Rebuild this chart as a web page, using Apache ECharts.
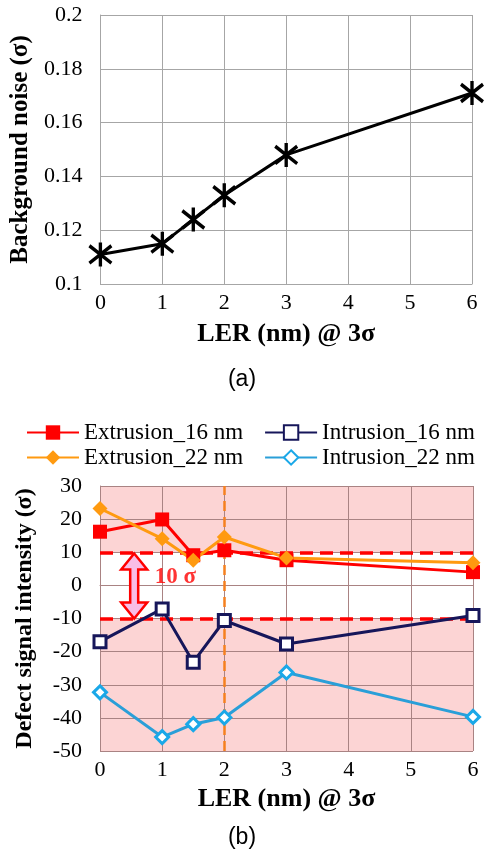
<!DOCTYPE html>
<html>
<head>
<meta charset="utf-8">
<script src="https://cdn.jsdelivr.net/npm/echarts@6/dist/echarts.min.js"></script>
<style>
  html, body { margin: 0; padding: 0; background: #fff; }
  #main { width: 484px; height: 855px; }
</style>
</head>
<body>
<div id="main"></div>
<script>
// (a) background noise vs LER
const lerValues = [0, 1, 1.5, 2, 3, 6];
const noiseValues = [0.111, 0.115, 0.124, 0.133, 0.148, 0.171];

// (b) defect signal intensity vs LER
const extrusion16 = [16.2, 19.9, 9.1, 10.6, 7.6, 4.0];
const extrusion22 = [23.2, 14.1, 7.6, 14.6, 8.3, 6.8];
const intrusion16 = [-17.0, -7.1, -23.2, -10.6, -17.7, -9.1];
const intrusion22 = [-32.3, -45.8, -41.9, -39.9, -26.3, -39.7];

const thresholdLines = [10, -10];
const pinkBands = [[10, 30], [-50, -10]];
const markedLer = 2;
const arrowData = [[0.55, 9.6, -10]];
const arrowLabel = [[0.88, 2.6]];

const serif = 'Liberation Serif';
const pairs = ys => lerValues.map((x, i) => [x, ys[i]]);

const asterisk = 'path://M-10,-8L10,8M10,-8L-10,8M0,-11L0,11';

var chartDom = document.getElementById('main');
var myChart = echarts.init(chartDom);

function xAxisOpt(gridIndex, gridColor) {
    return {
        type: 'value', gridIndex: gridIndex, min: 0, max: 6, interval: 1,
        name: 'LER (nm) @ 3\u03c3', nameLocation: 'middle', nameGap: gridIndex === 0 ? 37 : 35,
        nameTextStyle: {fontFamily: serif, fontWeight: 'bold', fontSize: 26, color: '#000'},
        axisLine: {show: true, lineStyle: {color: gridColor, width: 1}},
        axisTick: {show: false},
        axisLabel: {fontFamily: serif, fontSize: 22, color: '#000', margin: 8},
        splitLine: {show: true, lineStyle: {color: gridColor, width: 1}},
        z: 3
    };
}

function legendRow(top, names) {
    return {
        top: top, left: 26, width: 470, orient: 'horizontal',
        itemWidth: 52, itemHeight: 18, itemGap: 21, padding: 0,
        data: names,
        textStyle: {fontFamily: serif, fontSize: 23, color: '#000'}
    };
}

var option = {
    backgroundColor: '#fff',
    animation: false,
    grid: [
        {left: 99, right: 12, top: 15, height: 269},
        {left: 100, right: 11, top: 486, height: 265, show: true, backgroundColor: '#fff', borderWidth: 0}
    ],
    legend: [
        legendRow(421, ['Extrusion_16 nm', 'Intrusion_16 nm']),
        legendRow(446, ['Extrusion_22 nm', 'Intrusion_22 nm'])
    ],
    xAxis: [xAxisOpt(0, '#a6a6a6'), xAxisOpt(1, '#a98383')],
    yAxis: [
        {
            type: 'value', gridIndex: 0, min: 0.1, max: 0.2, interval: 0.02,
            name: 'Background noise (\u03c3)', nameLocation: 'middle', nameGap: 63,
            nameTextStyle: {fontFamily: serif, fontWeight: 'bold', fontSize: 25, color: '#000'},
            axisLine: {show: true, lineStyle: {color: '#a6a6a6'}},
            axisTick: {show: false},
            axisLabel: {fontFamily: serif, fontSize: 22, color: '#000', margin: 18,
                formatter: v => String(Number(v.toFixed(2)))},
            splitLine: {show: true, lineStyle: {color: '#a6a6a6', width: 1}}
        },
        {
            type: 'value', gridIndex: 1, min: -50, max: 30, interval: 10,
            name: 'Defect signal intensity (\u03c3)', nameLocation: 'middle', nameGap: 63,
            nameTextStyle: {fontFamily: serif, fontWeight: 'bold', fontSize: 24, color: '#000'},
            axisLine: {show: true, lineStyle: {color: '#a98383'}},
            axisTick: {show: false},
            axisLabel: {fontFamily: serif, fontSize: 22, color: '#000', margin: 18},
            splitLine: {show: true, lineStyle: {color: '#a98383', width: 1}},
            z: 3
        }
    ],
    graphic: [
        {type: 'text', left: 'center', top: 368, style: {text: '(a)', font: '23px "Liberation Sans"', fill: '#000'}},
        {type: 'text', left: 'center', top: 826, style: {text: '(b)', font: '23px "Liberation Sans"', fill: '#000'}}
    ],
    series: [
        {
            type: 'line', xAxisIndex: 0, yAxisIndex: 0, data: pairs(noiseValues),
            symbol: asterisk, symbolSize: [22, 24],
            lineStyle: {color: '#000', width: 3},
            itemStyle: {color: '#000', borderColor: '#000', borderWidth: 3.5},
            z: 5
        },
        {
            // shaded bands outside the +/-10 sigma window
            type: 'line', xAxisIndex: 1, yAxisIndex: 1, data: [], z: 1,
            markArea: {
                silent: true,
                itemStyle: {color: '#fcd4d4'},
                data: pinkBands.map(b => [{yAxis: b[0]}, {yAxis: b[1]}])
            }
        },
        {
            // threshold lines and the LER = 2 marker
            type: 'line', xAxisIndex: 1, yAxisIndex: 1, data: [], z: 4,
            markLine: {
                silent: true, symbol: 'none', label: {show: false},
                data: thresholdLines.map(v => ({yAxis: v, lineStyle: {color: '#ff0000', width: 3.5, type: [13, 7]}}))
                    .concat([{xAxis: markedLer, lineStyle: {color: '#f5801f', width: 2.5, type: [10, 6]}}])
            }
        },
        {
            name: 'Extrusion_16 nm', type: 'line', xAxisIndex: 1, yAxisIndex: 1, data: pairs(extrusion16),
            symbol: 'rect', symbolSize: 14,
            lineStyle: {color: '#ff0000', width: 3}, itemStyle: {color: '#ff0000'}, z: 6
        },
        {
            name: 'Intrusion_16 nm', type: 'line', xAxisIndex: 1, yAxisIndex: 1, data: pairs(intrusion16),
            symbol: 'rect', symbolSize: 12,
            lineStyle: {color: '#16165a', width: 3},
            itemStyle: {color: '#fff', borderColor: '#16165a', borderWidth: 3}, z: 6
        },
        {
            name: 'Extrusion_22 nm', type: 'line', xAxisIndex: 1, yAxisIndex: 1, data: pairs(extrusion22),
            symbol: 'diamond', symbolSize: 15,
            lineStyle: {color: '#ff9a10', width: 3}, itemStyle: {color: '#ff9a10'}, z: 6
        },
        {
            name: 'Intrusion_22 nm', type: 'line', xAxisIndex: 1, yAxisIndex: 1, data: pairs(intrusion22),
            symbol: 'diamond', symbolSize: 13,
            lineStyle: {color: '#2a9fd8', width: 3},
            itemStyle: {color: '#fff', borderColor: '#1aa8e8', borderWidth: 3}, z: 6
        },
        {
            // double-headed "10 sigma" arrow
            type: 'custom', xAxisIndex: 1, yAxisIndex: 1, data: arrowData, z: 7,
            encode: {x: 0, y: [1, 2]},
            renderItem: function (params, api) {
                const top = api.coord([api.value(0), api.value(1)]);
                const bot = api.coord([api.value(0), api.value(2)]);
                const cx = top[0], hw = 13, hl = 16, sw = 4;
                const pts = [
                    [cx, top[1]], [cx + hw, top[1] + hl], [cx + sw, top[1] + hl],
                    [cx + sw, bot[1] - hl], [cx + hw, bot[1] - hl], [cx, bot[1]],
                    [cx - hw, bot[1] - hl], [cx - sw, bot[1] - hl], [cx - sw, top[1] + hl],
                    [cx - hw, top[1] + hl]
                ];
                return {type: 'polygon', shape: {points: pts},
                    style: {fill: '#f9bde6', stroke: '#ff0000', lineWidth: 2.5}};
            }
        },
        {
            type: 'scatter', xAxisIndex: 1, yAxisIndex: 1, data: arrowLabel, symbolSize: 0, z: 7,
            label: {show: true, position: 'right', distance: 0, formatter: '10 \u03c3',
                fontFamily: serif, fontWeight: 'bold', fontSize: 23, color: '#ff0000'}
        }
    ]
};

option && myChart.setOption(option);
</script>
</body>
</html>
